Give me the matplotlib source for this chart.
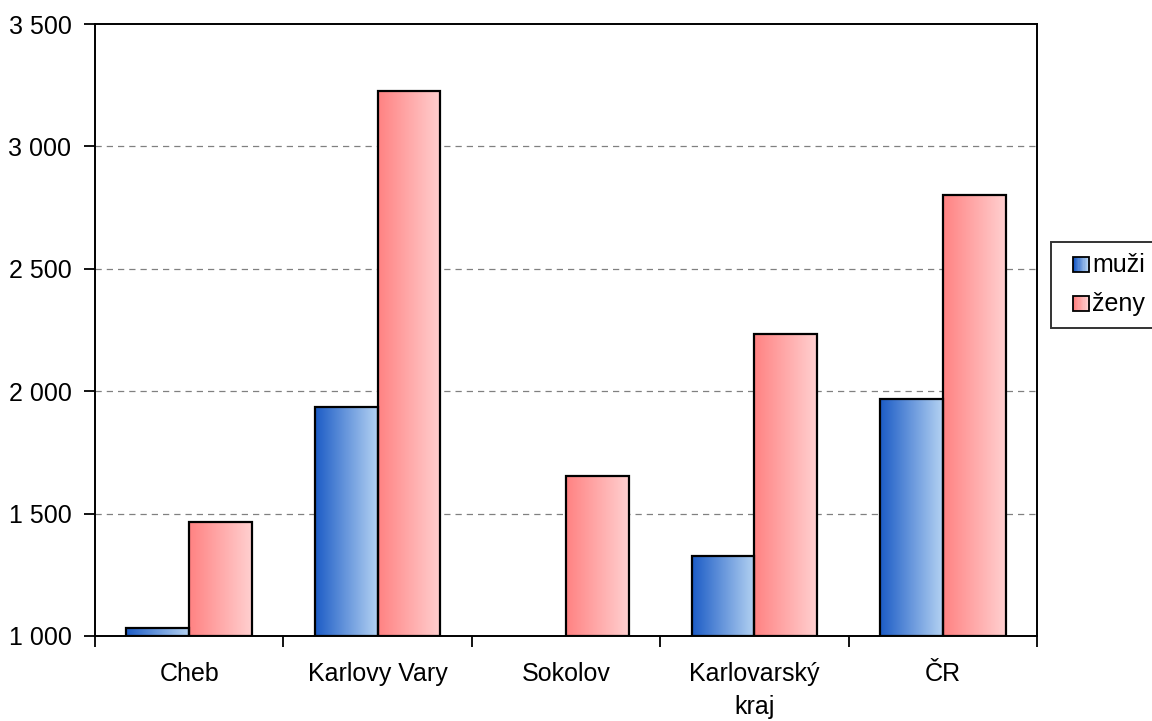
import numpy as np
import matplotlib.pyplot as plt
from matplotlib.colors import LinearSegmentedColormap
from matplotlib.patches import Rectangle
from matplotlib.legend_handler import HandlerBase

# data
categories = ["Cheb", "Karlovy Vary", "Sokolov", "Karlovarský\nkraj", "ČR"]
muzi = [1034, 1937, np.nan, 1326, 1970]
zeny = [1464, 3226, 1652, 2232, 2803]
series_names = ["muži", "ženy"]
yticks = [1000, 1500, 2000, 2500, 3000, 3500]
ytick_labels = ["1 000", "1 500", "2 000", "2 500", "3 000", "3 500"]

blue_cmap = LinearSegmentedColormap.from_list("b", ["#1c5cc6", "#b4d2f2"])
red_cmap = LinearSegmentedColormap.from_list("r", ["#ff8282", "#ffd0d0"])

plt.rcParams['font.family'] = ['Liberation Sans', 'DejaVu Sans']
fs = 18

fig = plt.figure(figsize=(11.52, 7.21), dpi=100)
ax = fig.add_axes([0.0825, 0.1179, 0.8177, 0.8488])

ymin, ymax = 1000, 3500
grad = np.linspace(0, 1, 256).reshape(1, -1)
w = 1 / 3
x = np.arange(len(categories))

for vals, cmap, off in [(muzi, blue_cmap, -w / 2), (zeny, red_cmap, w / 2)]:
    for xi, v in zip(x, vals):
        if np.isnan(v):
            continue
        x0, x1 = xi + off - w / 2, xi + off + w / 2
        ax.imshow(grad, cmap=cmap, extent=[x0, x1, ymin, v], aspect='auto',
                  zorder=2, interpolation='bilinear')
        ax.add_patch(Rectangle((x0, ymin), w, v - ymin, facecolor='none',
                               edgecolor='black', linewidth=1.6, zorder=3))

ax.set_xlim(-0.5, len(categories) - 0.5)
ax.set_ylim(ymin, ymax)

for yv in yticks[1:-1]:
    ax.axhline(yv, color='#808080', linestyle=(0, (5, 4)), linewidth=0.9, zorder=1)

ax.set_yticks(yticks)
ax.set_yticklabels(ytick_labels)
ax.set_xticks(np.arange(len(categories) + 1) - 0.5)
ax.set_xticklabels([])
ax.set_xticks(x, minor=True)
ax.set_xticklabels(categories, minor=True, linespacing=1.45)
ax.tick_params(axis='x', which='minor', length=0, pad=19, labelsize=fs)
ax.tick_params(axis='x', which='major', length=8, width=1.3, direction='out')
ax.tick_params(axis='y', length=8, width=1.3, direction='out', pad=9, labelsize=fs)
for s in ax.spines.values():
    s.set_linewidth(1.4)
    s.set_color('black')


class GradientHandler(HandlerBase):
    def __init__(self, cmap):
        super().__init__()
        self.cmap = cmap

    def create_artists(self, legend, orig_handle, xdescent, ydescent, width,
                       height, fontsize, trans):
        n = 12
        side = height * 0.9
        x0 = width - side
        arts = []
        for i in range(n):
            arts.append(Rectangle((x0 + i * side / n, 0), side / n, side,
                                  facecolor=self.cmap(i / (n - 1)),
                                  edgecolor='none', transform=trans))
        arts.append(Rectangle((x0, 0), side, side, facecolor='none',
                              edgecolor='black', linewidth=1.3, transform=trans))
        return arts


hb = Rectangle((0, 0), 1, 1)
hr = Rectangle((0, 0), 1, 1)
leg = fig.legend([hb, hr], series_names,
                 handler_map={hb: GradientHandler(blue_cmap), hr: GradientHandler(red_cmap)},
                 loc='upper left', bbox_to_anchor=(1051 / 1152, 1 - 242 / 721),
                 fontsize=fs, frameon=True, fancybox=False, edgecolor='black',
                 handlelength=1.05, handleheight=0.65, handletextpad=0.15,
                 borderpad=0.45, labelspacing=0.6, borderaxespad=0)
leg.get_frame().set_linewidth(1.4)

fig.savefig("out.png", dpi=100)
